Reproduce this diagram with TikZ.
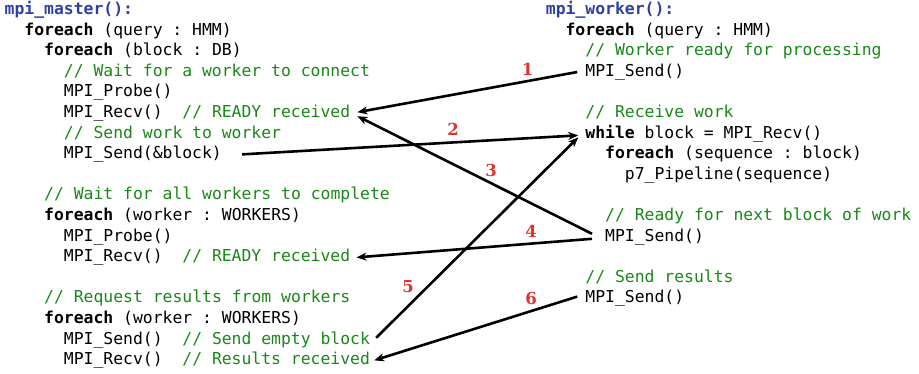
\documentclass[tikz,border=0pt]{standalone}
\usepackage{fontspec}
\setmonofont{DejaVu Sans Mono}
\newfontfamily\lblfont{DejaVu Serif}
\usetikzlibrary{arrows.meta}
\definecolor{kwblue}{RGB}{45,65,165}
\definecolor{cmtgreen}{RGB}{25,135,25}
\definecolor{numred}{RGB}{225,50,45}
\newcommand{\mycmt}[1]{\textcolor{cmtgreen}{#1}}
\newcommand{\mykw}[1]{\textbf{#1}}
\tikzset{
  code/.style={anchor=base west, inner sep=0pt, font=\ttfamily\fontsize{16.4}{20.6}\selectfont},
  title/.style={code, text=kwblue, font=\ttfamily\bfseries\fontsize{16.4}{20.6}\selectfont},
  lbl/.style={text=numred, inner sep=0pt, font=\lblfont\bfseries\fontsize{16.5}{16.5}\selectfont},
  msg/.style={line width=2.6pt, -{Stealth[length=10pt,width=8pt,inset=3pt]}}
}
\begin{document}
\begin{tikzpicture}[x=1pt,y=-1pt]
\useasboundingbox (0,0) rectangle (919,373);
% master column
\node[title] (m0)  at (4.5,14.5)  {mpi\_master():};
\node[code]  (m1)  at (24.2,35.1) {\mykw{foreach} (query : HMM)};
\node[code]  (m2)  at (44,55.7)   {\mykw{foreach} (block : DB)};
\node[code]  (m3)  at (63.7,76.3) {\mycmt{// Wait for a worker to connect}};
\node[code]  (m4)  at (63.7,96.9) {MPI\_Probe()};
\node[code]  (m5)  at (63.7,117.5) {MPI\_Recv()\ \ \mycmt{// READY received}};
\node[code]  (m6)  at (63.7,138.1) {\mycmt{// Send work to worker}};
\node[code]  (m7)  at (63.7,158.7) {MPI\_Send(\&block)};
\node[code]  (m9)  at (44,199.9)   {\mycmt{// Wait for all workers to complete}};
\node[code]  (m10) at (44,220.5)   {\mykw{foreach} (worker : WORKERS)};
\node[code]  (m11) at (63.7,241.1) {MPI\_Probe()};
\node[code]  (m12) at (63.7,261.7) {MPI\_Recv()\ \ \mycmt{// READY received}};
\node[code]  (m14) at (44,302.9)   {\mycmt{// Request results from workers}};
\node[code]  (m15) at (44,323.5)   {\mykw{foreach} (worker : WORKERS)};
\node[code]  (m16) at (63.7,344.1) {MPI\_Send()\ \ \mycmt{// Send empty block}};
\node[code]  (m17) at (63.7,364.7) {MPI\_Recv()\ \ \mycmt{// Results received}};
% worker column
\node[title] (w0)  at (545.7,14.5) {mpi\_worker():};
\node[code]  (w1)  at (565.4,35.1) {\mykw{foreach} (query : HMM)};
\node[code]  (w2)  at (585.2,55.7) {\mycmt{// Worker ready for processing}};
\node[code]  (w3)  at (585.2,76.3) {MPI\_Send()};
\node[code]  (w5)  at (585.2,117.5) {\mycmt{// Receive work}};
\node[code]  (w6)  at (585.2,138.1) {\mykw{while} block = MPI\_Recv()};
\node[code]  (w7)  at (605,158.7)  {\mykw{foreach} (sequence : block)};
\node[code]  (w8)  at (624.7,179.3) {p7\_Pipeline(sequence)};
\node[code]  (w10) at (605,220.5)  {\mycmt{// Ready for next block of work}};
\node[code]  (w11) at (605,241.1)  {MPI\_Send()};
\node[code]  (w13) at (585.2,282.3) {\mycmt{// Send results}};
\node[code]  (w14) at (585.2,302.9) {MPI\_Send()};
% messages
\draw[msg] ([xshift=-8pt]w3.west) -- ([xshift=7pt,yshift=1pt]m5.east);
\draw[msg] ([xshift=20pt]m7.east) -- ([xshift=-7pt,yshift=-2pt]w6.west);
\draw[msg] ([xshift=-13pt,yshift=3pt]w11.west) -- ([xshift=7pt,yshift=-3pt]m5.east);
\draw[msg] ([xshift=-13pt,yshift=-2pt]w11.west) -- ([xshift=6pt]m12.east);
\draw[msg] ([xshift=6pt,yshift=2pt]m16.east) -- ([xshift=-7pt,yshift=-4pt]w6.west);
\draw[msg] ([xshift=-8pt,yshift=2pt]w14.west) -- ([xshift=4pt]m17.east);
% labels
\node[lbl] (n1) at (527.7,69.3) {1};
\node[lbl] (n2) at (453,129) {2};
\node[lbl] (n3) at (491,170) {3};
\node[lbl] (n4) at (531,231) {4};
\node[lbl] (n5) at (408,287) {5};
\node[lbl] (n6) at (531,298) {6};
\end{tikzpicture}
\end{document}
